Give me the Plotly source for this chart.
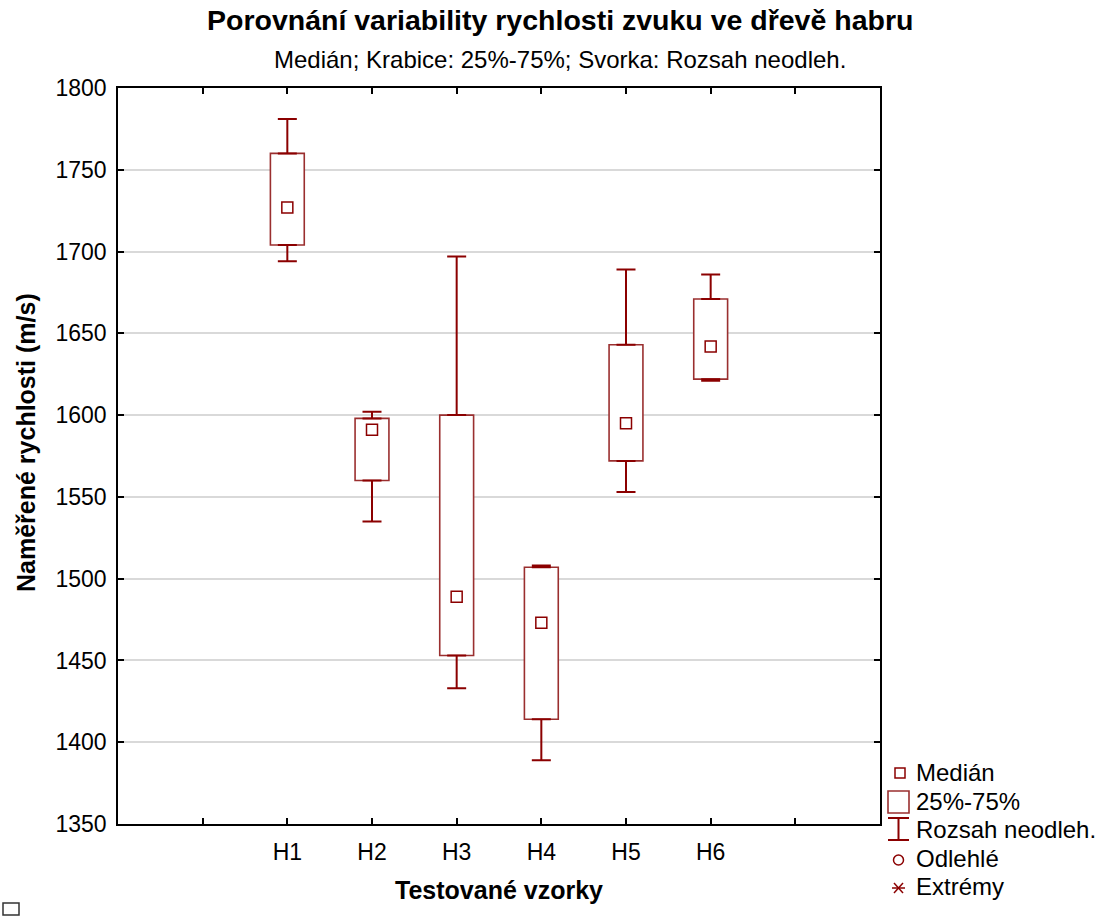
import plotly.graph_objects as go

# Sound velocity in hornbeam wood, per tested sample (m/s)
samples = ["H1", "H2", "H3", "H4", "H5", "H6"]
median = [1727, 1591, 1489, 1473, 1595, 1642]
q1 = [1704, 1560, 1453, 1414, 1572, 1622]
q3 = [1760, 1598, 1600, 1507, 1643, 1671]
low = [1694, 1535, 1433, 1389, 1553, 1621]
high = [1781, 1602, 1697, 1508, 1689, 1686]

y_ticks = [1350, 1400, 1450, 1500, 1550, 1600, 1650, 1700, 1750, 1800]

DARK_RED = "#8B0000"
BOX_RED = "#9a2f2f"
FONT = "Liberation Sans, Arial, sans-serif"

W, H = 1102, 920
L, R, T, B = 118, 222, 88, 96
PW, PH = W - L - R, H - T - B

# slot 1 and slot 8 stay empty, samples sit on slots 2..7
xpos = [i + 2 for i in range(len(samples))]
tickvals = list(range(1, len(samples) + 3))
ticktext = [""] + samples + [""]


def px(x):
    return (x - L) / PW


def py(y):
    return (H - B - y) / PH


fig = go.Figure()

# interquartile boxes
fig.add_trace(go.Bar(
    x=xpos, base=q1, y=[b - a for a, b in zip(q1, q3)], width=0.4,
    marker=dict(color="white", line=dict(color=BOX_RED, width=1.6)),
    showlegend=False, hoverinfo="skip",
))

# upper whiskers (from Q3 to the max non-outlier)
fig.add_trace(go.Scatter(
    x=xpos, y=q3, mode="markers",
    marker=dict(size=1, color="rgba(0,0,0,0)"),
    error_y=dict(type="data", symmetric=False,
                 array=[h - q for q, h in zip(q3, high)],
                 arrayminus=[0] * len(samples),
                 color=DARK_RED, thickness=2, width=9.5),
    showlegend=False, hoverinfo="skip",
))

# lower whiskers (from Q1 to the min non-outlier)
fig.add_trace(go.Scatter(
    x=xpos, y=q1, mode="markers",
    marker=dict(size=1, color="rgba(0,0,0,0)"),
    error_y=dict(type="data", symmetric=False,
                 array=[0] * len(samples),
                 arrayminus=[q - l for q, l in zip(q1, low)],
                 color=DARK_RED, thickness=2, width=9.5),
    showlegend=False, hoverinfo="skip",
))

# medians
fig.add_trace(go.Scatter(
    x=xpos, y=median, mode="markers",
    marker=dict(symbol="square-open", size=11, color=DARK_RED,
                line=dict(width=1.5, color=DARK_RED)),
    showlegend=False, hoverinfo="skip",
))

axis_common = dict(
    showline=True, linecolor="black", linewidth=1.5, mirror="ticks",
    ticks="inside", ticklen=6, tickwidth=1.5, tickcolor="black",
    tickfont=dict(family=FONT, size=23, color="black"), zeroline=False,
)

fig.update_xaxes(
    range=[0, len(samples) + 3], tickmode="array", tickvals=tickvals,
    ticktext=ticktext, showgrid=False, ticklabelstandoff=7,
    title=dict(text="<b>Testované vzorky</b>", standoff=17,
               font=dict(family=FONT, size=25, color="black")),
    **axis_common,
)
fig.update_yaxes(
    range=[y_ticks[0], y_ticks[-1]], tickmode="array", tickvals=y_ticks,
    showgrid=True, gridcolor="#d9d9d9", gridwidth=1.5, ticklabelstandoff=5,
    **axis_common,
)

annotations = [
    dict(text="<b>Porovnání variability rychlosti zvuku ve dřevě habru</b>",
         x=px(560), y=py(20), xref="paper", yref="paper",
         xanchor="center", yanchor="middle", showarrow=False,
         font=dict(family=FONT, size=28.5, color="black")),
    dict(text="Medián; Krabice: 25%-75%; Svorka: Rozsah neodleh.",
         x=px(560), y=py(60), xref="paper", yref="paper",
         xanchor="center", yanchor="middle", showarrow=False,
         font=dict(family=FONT, size=24, color="black")),
    dict(text="<b>Naměřené rychlosti (m/s)</b>", textangle=-90,
         x=px(26), y=py(443), xref="paper", yref="paper",
         xanchor="center", yanchor="middle", showarrow=False,
         font=dict(family=FONT, size=25, color="black")),
]

# legend: text entries
legend_items = [("Medián", 772), ("25%-75%", 801), ("Rozsah neodleh.", 829),
                ("Odlehlé", 858), ("Extrémy", 886)]
for label, yc in legend_items:
    annotations.append(dict(
        text=label, x=px(914), y=py(yc), xref="paper", yref="paper",
        xanchor="left", yanchor="middle", showarrow=False,
        font=dict(family=FONT, size=24, color="black")))


def seg(x0, y0, x1, y1, width=1.5, color=DARK_RED):
    return dict(type="line", xref="paper", yref="paper",
                x0=px(x0), x1=px(x1), y0=py(y0), y1=py(y1),
                line=dict(color=color, width=width))


shapes = [
    # median symbol
    dict(type="rect", xref="paper", yref="paper", x0=px(895), x1=px(905),
         y0=py(768), y1=py(778), line=dict(color=DARK_RED, width=1.5)),
    # box symbol
    dict(type="rect", xref="paper", yref="paper", x0=px(888), x1=px(909),
         y0=py(791), y1=py(813), line=dict(color=BOX_RED, width=1.6)),
    # whisker symbol
    seg(898.5, 818, 898.5, 840, width=2),
    seg(888, 818, 909, 818, width=2),
    seg(888, 840, 909, 840, width=2),
    # outlier symbol
    dict(type="circle", xref="paper", yref="paper", x0=px(893.5), x1=px(903.5),
         y0=py(855), y1=py(865), line=dict(color=DARK_RED, width=1.5)),
    # extreme symbol
    seg(894, 883, 903, 893),
    seg(894, 893, 903, 883),
    seg(892, 888, 905, 888),
    # small frame in the lower left corner
    dict(type="rect", xref="paper", yref="paper", x0=px(3), x1=px(19),
         y0=py(903), y1=py(915), line=dict(color="#333333", width=1.5)),
]

fig.update_layout(
    width=W, height=H,
    margin=dict(l=L, r=R, t=T, b=B),
    paper_bgcolor="white", plot_bgcolor="white",
    font=dict(family=FONT, color="black"),
    showlegend=False, barmode="overlay",
    annotations=annotations, shapes=shapes,
)

fig.write_html("out.html")
